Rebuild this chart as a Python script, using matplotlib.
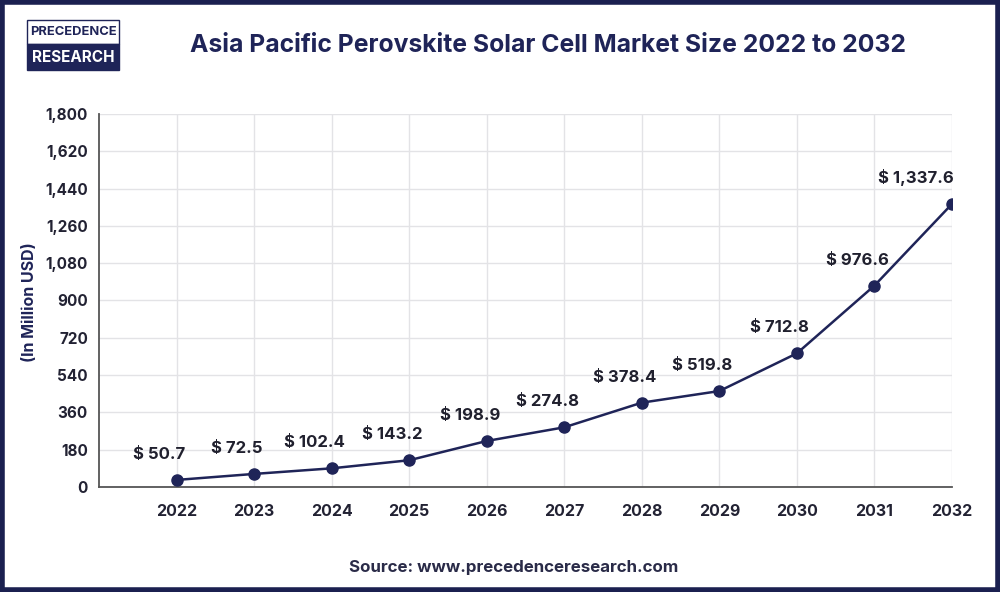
import matplotlib.pyplot as plt
from matplotlib.patches import Rectangle

years = [2022, 2023, 2024, 2025, 2026, 2027, 2028, 2029, 2030, 2031, 2032]
# point heights as drawn in the picture
plotted = [34, 63, 90, 129, 222, 288, 407, 463, 645, 972, 1366]
# values printed above the points
labels = ["$ 50.7", "$ 72.5", "$ 102.4", "$ 143.2", "$ 198.9", "$ 274.8",
          "$ 378.4", "$ 519.8", "$ 712.8", "$ 976.6", "$ 1,337.6"]
yticks = [0, 180, 360, 540, 720, 900, 1080, 1260, 1440, 1620, 1800]

navy = "#1f2458"
plt.rcParams['font.family'] = ['Inter', 'DejaVu Sans']

fig = plt.figure(figsize=(10, 5.92), dpi=100)
ax = fig.add_axes([0.099, 0.1774, 0.853, 0.630])

ax.plot(years, plotted, color=navy, lw=1.8, marker='o', markersize=8, zorder=3)
for i, (x, y, t) in enumerate(zip(years, plotted, labels)):
    dx = -36 if i == len(years) - 1 else -17
    ax.annotate(t, (x, y), xytext=(dx * 0.72, 13), textcoords='offset points',
                ha='center', va='bottom', fontsize=12, fontweight='bold', color='#20202e')

ax.set_xlim(2021, 2032)
ax.set_ylim(0, 1800)
ax.set_xticks(years)
ax.set_yticks(yticks)
ax.set_yticklabels([f"{v:,}" for v in yticks])
ax.tick_params(length=0, labelsize=11, labelcolor='#222233', pad=8)
ax.tick_params(axis='x', pad=12, labelsize=11.5)
for lb in ax.get_xticklabels() + ax.get_yticklabels():
    lb.set_fontweight('bold')
ax.grid(True, color='#e3e3e6', lw=1)
ax.set_axisbelow(True)
for s in ['top', 'right']:
    ax.spines[s].set_visible(False)
for s in ['left', 'bottom']:
    ax.spines[s].set_color('#555555')
    ax.spines[s].set_linewidth(1.3)

fig.text(0.030, 0.49, "(In Million USD)", rotation=90, ha='center', va='center',
         fontsize=11.5, fontweight='bold', color=navy)

fig.text(0.548, 0.923, "Asia Pacific Perovskite Solar Cell Market Size 2022 to 2032",
         ha='center', va='center', fontsize=17.8, fontweight='bold', color=navy)

fig.text(0.514, 0.042, "Source: www.precedenceresearch.com", ha='center', va='center',
         fontsize=12.2, fontweight='bold', color='#2a2b48')

# logo
fig.patches.append(Rectangle((0.027, 0.925), 0.092, 0.042, transform=fig.transFigure,
                             facecolor='white', edgecolor=navy, lw=1))
fig.patches.append(Rectangle((0.027, 0.882), 0.092, 0.043, transform=fig.transFigure,
                             facecolor=navy, edgecolor=navy, lw=1))
fig.text(0.073, 0.946, "PRECEDENCE", ha='center', va='center', fontsize=9.3,
         fontweight='bold', color=navy)
fig.text(0.073, 0.903, "RESEARCH", ha='center', va='center', fontsize=11,
         fontweight='bold', color='white')

# frame
fig.patches.append(Rectangle((0.002, 0.003), 0.996, 0.994, transform=fig.transFigure,
                             facecolor='none', edgecolor='#1b2050', lw=4))

fig.savefig('out.png', dpi=100)
